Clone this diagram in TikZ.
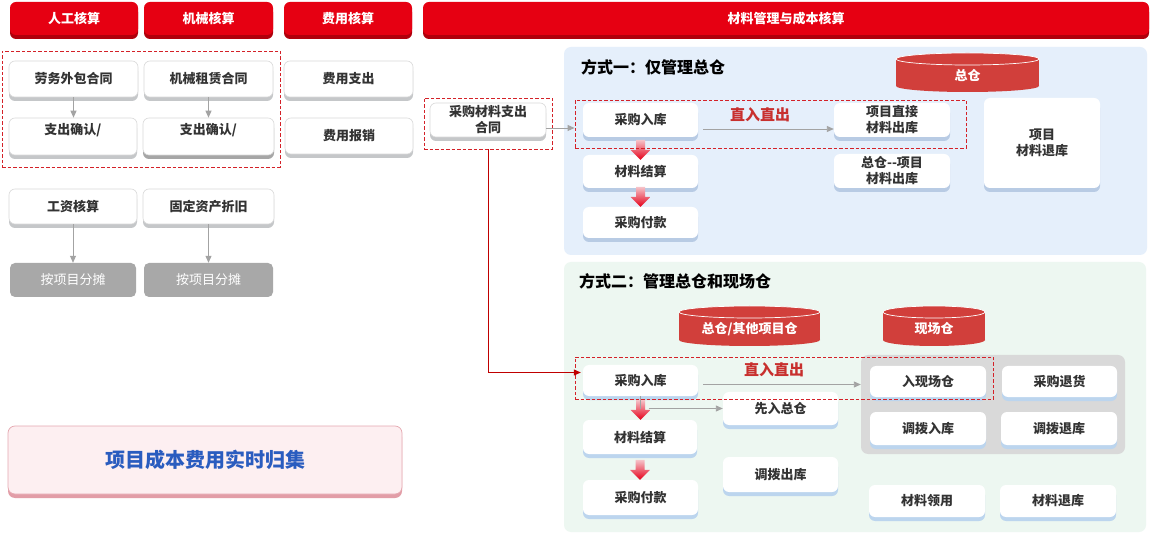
\documentclass[tikz,border=0pt]{standalone}
\usepackage{fontspec}
\setmainfont{Noto Sans CJK SC}
\usetikzlibrary{arrows.meta,shadows,calc}
\definecolor{hdrred}{HTML}{E60012}
\definecolor{hdrsh}{HTML}{B0000C}
\definecolor{lbord}{HTML}{DADADA}
\definecolor{lsh}{HTML}{C5C7C9}
\definecolor{dsh}{HTML}{A6A6A6}
\definecolor{bsh}{HTML}{B8CBE4}
\definecolor{gsh}{HTML}{BCD5EE}
\definecolor{grayfill}{HTML}{A8A8A8}
\definecolor{garr}{HTML}{A3A3A3}
\definecolor{dashred}{HTML}{D42128}
\definecolor{redline}{HTML}{C00000}
\definecolor{zhired}{HTML}{C8302E}
\definecolor{bluep}{HTML}{E5EFFB}
\definecolor{greenp}{HTML}{EDF7F1}
\definecolor{grayp}{HTML}{D9D9D9}
\definecolor{cylred}{HTML}{D13F3B}
\definecolor{pinkf}{HTML}{FDEFF1}
\definecolor{pinkb}{HTML}{E5A8B0}
\definecolor{pinks}{HTML}{E29DA7}
\definecolor{bluetx}{HTML}{2A5CBF}
\definecolor{tx}{HTML}{333333}
\definecolor{arrtop}{HTML}{F6C4CA}
\definecolor{arrbot}{HTML}{E5001A}
\newcommand\bx[7][]{\node[#1, minimum width={(#5-#3)*1pt}, minimum height={(#6-#4)*1pt}] (#2) at ({(#3+#5)/2},{(#4+#6)/2}) {#7};}
\newcommand\cyl[6]{%
  \fill[cylred] (#2,{#3+6}) rectangle (#4,{#5-6});
  \fill[cylred] ({(#2+#4)/2},{#5-6}) ellipse [x radius={(#4-#2)/2*1pt}, y radius=6pt];
  \filldraw[fill=cylred, draw=white, line width=0.7pt] ({(#2+#4)/2},{#3+6}) ellipse [x radius={(#4-#2)/2*1pt}, y radius=6pt];
  \node[base, text=white] (#1) at ({(#2+#4)/2},{(#3+#5)/2+3}) {#6};}
\newcommand\barr[3]{%
  \shade[top color=arrtop, bottom color=arrbot] let \p1=(#1.south), \p2=(#2.north) in
    (\x1-4.5pt,\y2-#3+20pt) -- (\x1+4.5pt,\y2-#3+20pt) -- (\x1+4.5pt,\y2-#3+10pt) --
    (\x1+10pt,\y2-#3+10pt) -- (\x1,\y2-#3) -- (\x1-10pt,\y2-#3+10pt) --
    (\x1-4.5pt,\y2-#3+10pt) -- cycle;}
\begin{document}
\begin{tikzpicture}[x=1pt,y=-1pt,
  base/.style={inner sep=0pt, align=center, font=\fontsize{13pt}{16pt}\selectfont\bfseries, text=tx},
  hdr/.style={base, fill=hdrred, rounded corners=6pt, text=white,
    drop shadow={shadow xshift=0pt,shadow yshift=-4pt,fill=hdrsh,opacity=1}},
  lbox/.style={base, fill=white, draw=lbord, line width=0.6pt, rounded corners=6pt,
    drop shadow={shadow xshift=0pt,shadow yshift=-4pt,fill=#1,opacity=1}},
  lbox/.default=lsh,
  sbox/.style={base, fill=white, rounded corners=6pt,
    drop shadow={shadow xshift=0pt,shadow yshift=-4pt,fill=#1,opacity=1}},
  gbx/.style={base, fill=grayfill, rounded corners=5pt, text=white, font=\fontsize{13pt}{16pt}\selectfont},
  dbox/.style={draw=dashred, line width=0.9pt, dash pattern=on 3.5pt off 2pt, inner sep=0pt},
  panel/.style={fill=#1, rounded corners=7pt, inner sep=0pt},
  ttl/.style={inner sep=0pt, font=\fontsize{16pt}{18pt}\selectfont\bfseries, text=black, anchor=west},
  zr/.style={inner sep=0pt, font=\fontsize{15pt}{18pt}\selectfont\bfseries, text=zhired},
  garrow/.style={draw=garr, line width=0.9pt, -{Triangle[width=6pt,length=7pt]}},
  rarrow/.style={draw=redline, line width=1pt, -{Triangle[width=6pt,length=7pt]}},
  pink/.style={base, fill=pinkf, draw=pinkb, line width=0.7pt, rounded corners=7pt, text=bluetx,
    font=\fontsize{20pt}{22pt}\selectfont\bfseries,
    drop shadow={shadow xshift=0pt,shadow yshift=-4pt,fill=pinks,opacity=1}}]
\useasboundingbox (0,0) rectangle (1151,534);
\fill[white] (0,0) rectangle (1151,534);
% header
\bx[hdr]{h1}{10}{2}{138}{35}{人工核算}
\bx[hdr]{h2}{144}{2}{273}{35}{机械核算}
\bx[hdr]{h3}{284}{2}{412}{35}{费用核算}
\bx[hdr]{h4}{423}{2}{1149}{35}{材料管理与成本核算}
% left column
\bx[lbox]{lw}{9}{61}{138}{97}{劳务外包合同}
\bx[lbox]{jx}{144}{61}{273}{97}{机械租赁合同}
\bx[lbox]{fz}{284}{61}{413}{97}{费用支出}
\bx[lbox, label={[base, yshift=6pt]center:支出确认/}]{zc1}{9}{118}{137}{155}{}
\bx[lbox=dsh, label={[base, yshift=6pt]center:支出确认/}]{zc2}{143}{118}{274}{155}{}
\bx[lbox]{fb}{285}{118}{413}{154}{费用报销}
\bx[lbox]{gz}{9}{189}{137}{224}{工资核算}
\bx[lbox]{gd}{143}{189}{274}{224}{固定资产折旧}
\bx[gbx]{ft1}{10}{263}{136}{297}{按项目分摊}
\bx[gbx]{ft2}{144}{263}{273}{297}{按项目分摊}
\bx[dbox]{ld}{2}{51}{280}{167}{}
\draw[garrow] (lw.south) -- (lw.south |- zc1.north);
\draw[garrow] (jx.south) -- (jx.south |- zc2.north);
\draw[garrow] (gz.south) -- (gz.south |- ft1.north);
\draw[garrow] (gd.south) -- (gd.south |- ft2.north);
% middle contract
\bx[lbox]{cght}{430}{103}{546}{137}{采购材料支出\\合同}
% panels
\bx[panel=bluep]{p1}{564}{47}{1147}{255}{}
\bx[panel=greenp]{p2}{564}{262}{1146}{532}{}
\bx[panel=grayp]{grp}{861}{355}{1125}{454}{}
% method one
\node[ttl] (t1) at (581,67) {方式一：仅管理总仓};
\cyl{c1}{896}{53}{1039}{92}{总仓}
\bx[sbox=bsh]{rk1}{583}{103}{698}{137}{采购入库}
\bx[sbox=bsh]{js1}{583}{155}{698}{188}{材料结算}
\bx[sbox=bsh]{fk1}{583}{207}{698}{238}{采购付款}
\bx[sbox=bsh]{zj}{834}{103}{950}{137}{项目直接\\材料出库}
\bx[sbox=bsh]{zx}{834}{154}{950}{188}{总仓-{}-项目\\材料出库}
\bx[sbox=bsh]{tk}{984}{98}{1100}{188}{项目\\材料退库}
\node[zr] (zr1) at (760,115) {直入直出};
\barr{rk1}{js1}{5pt}
\barr{js1}{fk1}{0pt}
\draw[garrow] ([xshift=5pt,yshift=-9pt]rk1.east) -- ([yshift=-9pt]rk1.east -| zj.west);
\bx[dbox]{d1}{575}{100}{966}{148}{}
% method two
\node[ttl] (t2) at (579,281) {方式二：管理总仓和现场仓};
\cyl{c2}{679}{306}{820}{346}{总仓/其他项目仓}
\cyl{c3}{883}{306}{985}{346}{现场仓}
\bx[sbox=gsh]{rk2}{583}{365}{698}{396}{采购入库}
\bx[sbox=gsh]{xr}{723}{392}{838}{425}{先入总仓}
\bx[sbox=gsh]{js2}{583}{420}{697}{454}{材料结算}
\bx[sbox=gsh]{fk2}{583}{480}{698}{515}{采购付款}
\bx[sbox=gsh]{db}{723}{457}{838}{492}{调拨出库}
\bx[sbox=gsh]{rx}{870}{366}{986}{397}{入现场仓}
\bx[sbox=gsh]{th}{1002}{366}{1117}{397}{采购退货}
\bx[sbox=gsh]{dr}{870}{412}{986}{445}{调拨入库}
\bx[sbox=gsh]{dt}{1001}{412}{1117}{445}{调拨退库}
\bx[sbox=gsh]{ly}{869}{485}{985}{517}{材料领用}
\bx[sbox=gsh]{tk2}{1000}{485}{1116}{517}{材料退库}
\node[zr] (zr2) at (774,370) {直入直出};
\barr{rk2}{js2}{0pt}
\barr{js2}{fk2}{0pt}
\draw[garr, line width=0.9pt] (rk2.south) -- (rk2.south |- xr.west);
\draw[garrow] ([xshift=8pt]rk2.south |- xr.west) -- (xr.west);
\draw[garrow] ([xshift=5pt,yshift=-4pt]rk2.east) -- ([yshift=-4pt]rk2.east -| grp.west);
\bx[dbox]{d2}{575}{357}{993}{399}{}
% contract connectors
\bx[dbox]{cgd}{424}{98}{552}{149}{}
\draw[garrow] ([yshift=-8pt]cght.east) -- ([yshift=-8pt]cght.east -| d1.west);
\draw[rarrow] (cgd.south) |- ([xshift=-2pt,yshift=8pt]rk2.west);
% summary
\bx[pink]{gj}{8}{426}{402}{494}{项目成本费用实时归集}
\end{tikzpicture}
\end{document}
